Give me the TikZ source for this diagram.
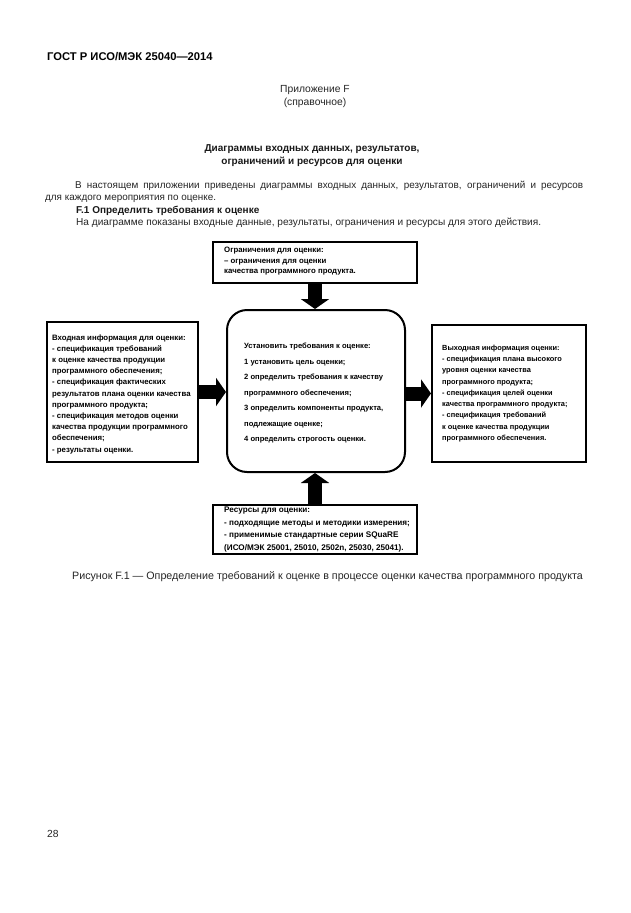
\documentclass[tikz,border=0pt]{standalone}
\usepackage{fontspec}
\setmainfont{Liberation Sans}
\usetikzlibrary{arrows.meta,calc}
\tikzset{
  pagetext/.style={inner sep=0pt, text=black!85, font=\fontsize{10.3}{12}\selectfont},
  frame/.style={draw=black, line width=2pt, inner sep=0pt},
  boxtext/.style 2 args={inner sep=0pt, anchor=west, align=left,
     font=\fontsize{#1}{#2}\selectfont\bfseries, text=black},
  fatarrow/.style={line width=14pt, draw=black, -{Triangle[width=28pt,length=10pt]}},
}
\begin{document}
\begin{tikzpicture}[x=1pt,y=-1pt]
\useasboundingbox (0,0) rectangle (630,913);
\fill[white] (0,0) rectangle (630,913);

% page header and text
\node[pagetext, anchor=base west, font=\fontsize{11.2}{12}\selectfont\bfseries, text=black] (hdr) at (47,60) {ГОСТ Р ИСО/МЭК 25040—2014};
\node[pagetext, anchor=base] (app) at (315,92) {Приложение F};
\node[pagetext, anchor=base] (appsub) at (315,105) {(справочное)};
\node[pagetext, anchor=base, font=\fontsize{10}{12}\selectfont\bfseries, text=black!90] (ttl1) at (312,151) {Диаграммы входных данных, результатов,};
\node[pagetext, anchor=base, font=\fontsize{10}{12}\selectfont\bfseries, text=black!90] (ttl2) at (312,164) {ограничений и ресурсов для оценки};
\node[pagetext, anchor=base west, font=\fontsize{9.9}{12}\selectfont] (para1) at (75,188)
  {\makebox[508pt][s]{В настоящем приложении приведены диаграммы входных данных, результатов, ограничений и ресурсов}};
\node[pagetext, anchor=base west, font=\fontsize{9.9}{12}\selectfont] (para2) at (45,200)
  {для каждого мероприятия по оценке.};
\node[pagetext, anchor=base west, font=\fontsize{10}{12}\selectfont\bfseries, text=black!90] (f1) at (76,213) {F.1 Определить требования к оценке};
\node[pagetext, anchor=base west, font=\fontsize{10.1}{12}\selectfont] (f1t) at (76,225) {На диаграмме показаны входные данные, результаты, ограничения и ресурсы для этого действия.};

% diagram frames
\node[frame, minimum width=204pt, minimum height=41pt] (lim) at (315,262.5) {};
\node[frame, rounded corners=20pt, minimum width=178pt, minimum height=162pt] (act) at (316,391) {};
\node[frame, minimum width=151pt, minimum height=140pt] (inp) at (122.5,392) {};
\node[frame, minimum width=154pt, minimum height=137pt] (out) at (509,393.5) {};
\node[frame, minimum width=204pt, minimum height=49pt] (res) at (315,529.5) {};

% texts in the frames
\node[boxtext={7.8}{10.5}] (limt) at ($(lim.west)+(12,-1)$)
  {Ограничения для оценки:\\– ограничения для оценки\\качества программного продукта.};
\node[boxtext={7.6}{15.5}] (actt) at ($(act.west)+(18,2)$)
  {Установить требования к оценке:\\1 установить цель оценки;\\2 определить требования к качеству\\программного обеспечения;\\3 определить компоненты продукта,\\подлежащие оценке;\\4 определить строгость оценки.};
\node[boxtext={7.8}{11.2}] (inpt) at ($(inp.west)+(6,2)$)
  {Входная информация для оценки:\\- спецификация требований\\к оценке качества продукции\\программного обеспечения;\\- спецификация фактических\\результатов плана оценки качества\\программного продукта;\\- спецификация методов оценки\\качества продукции программного\\обеспечения;\\- результаты оценки.};
\node[boxtext={7.4}{11.25}] (outt) at ($(out.west)+(11,0)$)
  {Выходная информация оценки:\\- спецификация плана высокого\\уровня оценки качества\\программного продукта;\\- спецификация целей оценки\\качества программного продукта;\\- спецификация требований\\к оценке качества продукции\\программного обеспечения.};
\node[boxtext={8.15}{12.5}] (rest) at ($(res.west)+(12,0)$)
  {Ресурсы для оценки:\\- подходящие методы и методики измерения;\\- применимые стандартные серии SQuaRE\\(ИСО/МЭК 25001, 25010, 2502n, 25030, 25041).};

% block arrows
\draw[fatarrow] (lim.south) -- (lim.south |- act.north);
\draw[fatarrow] (inp.east) -- (act.west |- inp.east);
\draw[fatarrow] (act.east |- out.west) -- (out.west);
\draw[fatarrow] (res.north) -- (res.north |- act.south);

% caption and page number
\node[pagetext, anchor=base, font=\fontsize{10.7}{12}\selectfont] (cap) at (327.5,579) {Рисунок F.1 — Определение требований к оценке в процессе оценки качества программного продукта};
\node[pagetext, anchor=base west] (pg) at (47,837) {28};
\end{tikzpicture}
\end{document}
